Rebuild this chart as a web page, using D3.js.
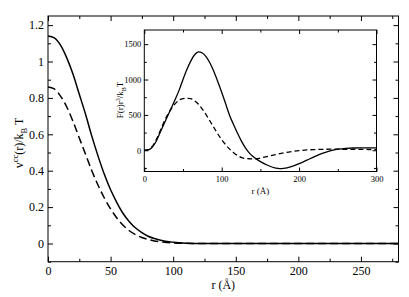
<!DOCTYPE html>
<meta charset="utf-8">
<html>
<head>
<style>
  body { margin: 0; background: #fff; }
  svg { display: block; font-family: "Liberation Serif", "DejaVu Serif", serif; }
  .tick line { stroke: #000; }
  .tick text { fill: #000; }
</style>
</head>
<body>
<svg width="409" height="297"></svg>
</body>
</html>

<script src="https://d3js.org/d3.v7.min.js"></script>
<script>

// main panel: v^cc(r)/kBT against r
var rMain = [0,5,10,15,20,25,30,35,40,45,50,55,60,65,70,75,80,85,90,95,100,110,120,280];
var vSolid = [1.14,1.13,1.09,1.02,0.93,0.82,0.71,0.59,0.48,0.38,0.295,0.225,0.165,0.12,0.085,0.06,0.04,0.027,0.018,0.011,0.007,0.002,0,0];
var vDashed = [0.86,0.85,0.81,0.75,0.67,0.58,0.49,0.40,0.32,0.25,0.19,0.14,0.10,0.07,0.048,0.033,0.022,0.014,0.009,0.005,0.003,0.001,0,0];

// inset: F(r) r^3 / kBT
var rInset = [0,5,10,15,20,25,30,35,40,45,50,55,60,65,70,75,80,85,90,95,100,105,110,115,120,125,130,135,140,145,150,160,170,175,180,190,200,210,220,230,240,250,260,270,280,290,300];
var fSolid = [0,5,40,120,240,360,480,600,720,850,1000,1140,1260,1350,1390,1375,1320,1230,1110,970,820,660,500,370,250,140,45,-30,-85,-125,-160,-215,-252,-258,-255,-230,-190,-140,-90,-45,-10,15,28,32,33,33,33];
var fDashed = [0,8,50,140,260,390,500,590,660,710,730,735,730,700,650,580,500,410,320,230,150,80,20,-30,-70,-100,-115,-120,-122,-120,-110,-85,-60,-48,-36,-18,-5,5,10,14,15,15,14,13,12,11,10];

var svg = d3.select("svg");

// ---------- main panel ----------
var L = 48, R = 398.5, T = 16, B = 261.7;
var x = d3.scaleLinear().domain([0, 280]).range([L, R]);
var y = d3.scaleLinear().domain([-0.1, 1.25]).range([B, T]);

var main = svg.append("g");

main.append("rect").attr("x", L).attr("y", T).attr("width", R - L).attr("height", B - T)
    .attr("fill", "none").attr("stroke", "#000").attr("stroke-width", 1);

// ticks point inwards on all four sides, labels only bottom and left
function axes(g, xs, ys, o) {
  var l = xs.range()[0], r = xs.range()[1], b = ys.range()[0], t = ys.range()[1];
  var xb = g.append("g").attr("transform", "translate(0," + b + ")")
      .call(d3.axisBottom(xs).tickValues(o.xMajor).tickSize(-o.big).tickPadding(o.pad).tickFormat(d3.format("d")));
  xb.selectAll("text").attr("dy", o.xdy).style("font-size", o.fs + "px");
  g.append("g").attr("transform", "translate(0," + b + ")")
      .call(d3.axisBottom(xs).tickValues(o.xMinor).tickSize(-o.small).tickFormat(""));
  g.append("g").attr("transform", "translate(0," + t + ")")
      .call(d3.axisTop(xs).tickValues(o.xMajor).tickSize(-o.big).tickFormat(""));
  g.append("g").attr("transform", "translate(0," + t + ")")
      .call(d3.axisTop(xs).tickValues(o.xMinor).tickSize(-o.small).tickFormat(""));

  var yl = g.append("g").attr("transform", "translate(" + l + ",0)")
      .call(d3.axisLeft(ys).tickValues(o.yMajor).tickSize(-o.big).tickPadding(o.pad).tickFormat(o.yFmt));
  yl.selectAll("text").style("font-size", o.fs + "px");
  g.append("g").attr("transform", "translate(" + l + ",0)")
      .call(d3.axisLeft(ys).tickValues(o.yMinor).tickSize(-o.small).tickFormat(""));
  g.append("g").attr("transform", "translate(" + r + ",0)")
      .call(d3.axisRight(ys).tickValues(o.yMajor).tickSize(-o.big).tickFormat(""));
  g.append("g").attr("transform", "translate(" + r + ",0)")
      .call(d3.axisRight(ys).tickValues(o.yMinor).tickSize(-o.small).tickFormat(""));
  g.selectAll(".domain").remove();
  g.selectAll("text").style("font-family", "Liberation Serif, serif");
}

axes(main, x, y, {
  xMajor: [0,50,100,150,200,250], xMinor: [25,75,125,175,225,275],
  yMajor: [0,0.2,0.4,0.6,0.8,1,1.2], yMinor: [-0.1,0.1,0.3,0.5,0.7,0.9,1.1],
  big: 5, small: 3, pad: 4, fs: 12, xdy: "0.8em", yFmt: d3.format("")
});

var line = d3.line().curve(d3.curveMonotoneX)
    .x(function(d) { return x(d[0]); }).y(function(d) { return y(d[1]); });

main.append("path").datum(d3.zip(rMain, vSolid)).attr("d", line)
    .attr("fill", "none").attr("stroke", "#000").attr("stroke-width", 1.5);
main.append("path").datum(d3.zip(rMain, vDashed)).attr("d", line)
    .attr("fill", "none").attr("stroke", "#000").attr("stroke-width", 1.5).attr("stroke-dasharray", "8,4");

main.append("text").attr("x", (L + R) / 2).attr("y", 289).attr("text-anchor", "middle")
    .style("font-size", "12px").text("r (\u00c5)");

var yt = main.append("text").attr("transform", "translate(23," + 143 + ") rotate(-90)")
    .attr("text-anchor", "middle").style("font-size", "12px");
yt.append("tspan").text("v");
yt.append("tspan").attr("dy", -5).style("font-size", "8.5px").text("cc");
yt.append("tspan").attr("dy", 5).text("(r)/k");
yt.append("tspan").attr("dy", 4).style("font-size", "8.5px").text("B");
yt.append("tspan").attr("dy", -4).text(" T");

// ---------- inset ----------
var iL = 144.3, iR = 376.5, iT = 30, iB = 171.5;
var xi = d3.scaleLinear().domain([0, 300]).range([iL, iR]);
var yi = d3.scaleLinear().domain([-300, 1700]).range([iB, iT]);

var inset = svg.append("g");
inset.append("rect").attr("x", iL).attr("y", iT).attr("width", iR - iL).attr("height", iB - iT)
    .attr("fill", "#fff").attr("stroke", "#000").attr("stroke-width", 1);

axes(inset, xi, yi, {
  xMajor: [0,100,200,300], xMinor: [50,150,250],
  yMajor: [0,500,1000,1500], yMinor: [-250,250,750,1250],
  big: 4, small: 2.5, pad: 3, fs: 8.5, xdy: "0.9em", yFmt: d3.format("d")
});

var lineI = d3.line().curve(d3.curveMonotoneX)
    .x(function(d) { return xi(d[0]); }).y(function(d) { return yi(d[1]); });

inset.append("path").datum(d3.zip(rInset, fSolid)).attr("d", lineI)
    .attr("fill", "none").attr("stroke", "#000").attr("stroke-width", 1.3);
inset.append("path").datum(d3.zip(rInset, fDashed)).attr("d", lineI)
    .attr("fill", "none").attr("stroke", "#000").attr("stroke-width", 1.3).attr("stroke-dasharray", "5,3");

inset.append("text").attr("x", (iL + iR) / 2).attr("y", 194).attr("text-anchor", "middle")
    .style("font-size", "9px").text("r (\u00c5)");

var it = inset.append("text").attr("transform", "translate(123," + 100 + ") rotate(-90)")
    .attr("text-anchor", "middle").style("font-size", "9px");
it.append("tspan").text("F(r)r");
it.append("tspan").attr("dy", -3).style("font-size", "6px").text("3");
it.append("tspan").attr("dy", 3).text("/k");
it.append("tspan").attr("dy", 2.5).style("font-size", "6px").text("B");
it.append("tspan").attr("dy", -2.5).text("T");

</script>
